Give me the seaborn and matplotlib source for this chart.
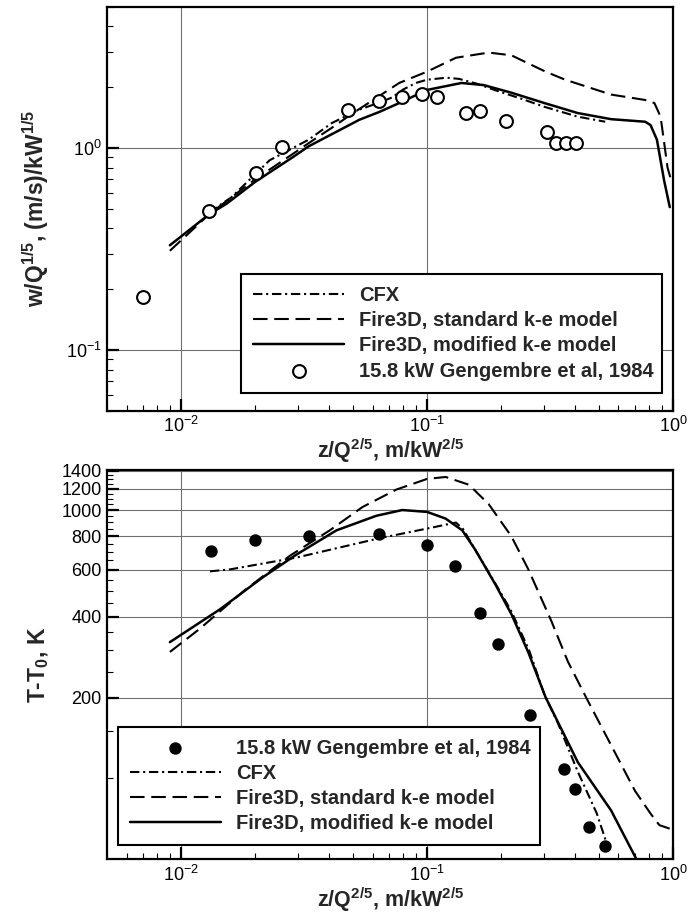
import matplotlib
matplotlib.use('Agg')
import matplotlib.pyplot as plt
import matplotlib.ticker as mticker
import seaborn as sns

# ---- top panel: centreline velocity ----
w_exp_x = [0.0070, 0.0130, 0.0201, 0.0258, 0.0477, 0.0636, 0.079, 0.095, 0.110,
           0.1437, 0.164, 0.210, 0.308, 0.335, 0.368, 0.404]
w_exp_y = [0.184, 0.49, 0.75, 1.01, 1.55, 1.71, 1.79, 1.86, 1.79,
           1.49, 1.53, 1.36, 1.20, 1.06, 1.06, 1.06]

w_cfx_x = [0.013, 0.016, 0.0229, 0.033, 0.041, 0.053, 0.064, 0.072, 0.080, 0.090,
           0.100, 0.120, 0.135, 0.160, 0.190, 0.240, 0.300, 0.410, 0.530]
w_cfx_y = [0.48, 0.57, 0.87, 1.10, 1.33, 1.55, 1.68, 1.78, 1.95, 2.10,
           2.18, 2.23, 2.20, 2.08, 1.93, 1.76, 1.60, 1.43, 1.35]

w_std_x = [0.009, 0.013, 0.020, 0.0354, 0.041, 0.050, 0.077, 0.100, 0.131, 0.178,
           0.220, 0.303, 0.364, 0.560, 0.770, 0.840, 0.890, 0.950, 0.980]
w_std_y = [0.31, 0.47, 0.70, 1.12, 1.26, 1.49, 2.10, 2.39, 2.80, 2.97,
           2.88, 2.39, 2.18, 1.84, 1.73, 1.67, 1.43, 0.80, 0.70]

w_mod_x = [0.009, 0.013, 0.0153, 0.020, 0.0284, 0.033, 0.053, 0.064, 0.077, 0.100,
           0.138, 0.170, 0.220, 0.300, 0.410, 0.560, 0.770, 0.810, 0.860, 0.920, 0.970]
w_mod_y = [0.33, 0.47, 0.53, 0.68, 0.90, 1.02, 1.38, 1.51, 1.67, 1.94,
           2.10, 2.05, 1.88, 1.67, 1.49, 1.39, 1.35, 1.30, 1.10, 0.69, 0.51]

# ---- bottom panel: centreline temperature rise ----
t_exp_x = [0.0132, 0.0200, 0.0330, 0.0640, 0.100, 0.130, 0.164, 0.195, 0.263,
           0.361, 0.400, 0.454, 0.530]
t_exp_y = [706, 773, 800, 811, 742, 617, 413, 316, 173, 108, 91, 66, 56]

t_cfx_x = [0.0131, 0.0158, 0.0294, 0.064, 0.100, 0.131, 0.140, 0.160,
           0.190, 0.220, 0.260, 0.300, 0.340, 0.410, 0.490, 0.535]
t_cfx_y = [591, 601, 665, 785, 853, 898, 850, 690,
           530, 420, 300, 205, 161, 106, 74, 58]

t_std_x = [0.009, 0.0119, 0.018, 0.0277, 0.0402, 0.0546, 0.075, 0.100, 0.119,
           0.148, 0.178, 0.220, 0.258, 0.320, 0.374, 0.450, 0.560, 0.700, 0.810,
           0.880, 0.970]
t_std_y = [296, 361, 500, 676, 840, 1026, 1192, 1306, 1328,
           1242, 1052, 799, 601, 386, 272, 195, 133, 90, 74,
           67, 65]

t_mod_x = [0.009, 0.0144, 0.0215, 0.0294, 0.0428, 0.0622, 0.0793, 0.100, 0.119,
           0.139, 0.157, 0.190, 0.220, 0.258, 0.303, 0.410, 0.560, 0.710]
t_mod_y = [322, 427, 562, 682, 840, 952, 1000, 984, 929,
           840, 711, 526, 410, 295, 201, 115, 76, 50]

t_major = [200, 400, 600, 800, 1000, 1200, 1400]
t_minor = [100, 150] + list(range(250, 1400, 50))

lab_exp = '15.8 kW Gengembre et al, 1984'
lab_cfx = 'CFX'
lab_std = 'Fire3D, standard k-e model'
lab_mod = 'Fire3D, modified k-e model'

sns.set_style('ticks')
plt.rcParams['font.family'] = ['Liberation Sans', 'DejaVu Sans']
plt.rcParams['mathtext.fontset'] = 'custom'
plt.rcParams['mathtext.rm'] = 'Liberation Sans'
plt.rcParams['mathtext.bf'] = 'Liberation Sans:bold'

ls_cfx = (0, (4.5, 1.8, 1.0, 1.8))
ls_std = (0, (7.0, 3.2))
LW = 1.5

fig = plt.figure(figsize=(6.91, 9.19), dpi=100)
ax1 = fig.add_axes([0.155, 0.553, 0.819, 0.4395])
ax2 = fig.add_axes([0.155, 0.065, 0.819, 0.4236])


def style_axes(ax):
    ax.set_xscale('log')
    ax.set_yscale('log')
    ax.set_xlim(0.005, 1.0)
    for s in ax.spines.values():
        s.set_linewidth(1.6)
        s.set_color('k')
    ax.tick_params(which='both', direction='in', top=False, right=False,
                   labelsize=13, colors='k')
    ax.tick_params(which='major', length=8.5, width=1.6, pad=4)
    ax.tick_params(which='minor', length=4.5, width=0.8)
    ax.xaxis.set_major_locator(mticker.LogLocator(base=10, numticks=10))
    ax.xaxis.set_minor_locator(mticker.LogLocator(base=10, subs=range(2, 10), numticks=10))
    ax.xaxis.set_minor_formatter(mticker.NullFormatter())
    ax.set_xlabel(r'z/Q$^{\mathbf{2/5}}$, m/kW$^{\mathbf{2/5}}$',
                  fontsize=15.5, fontweight='bold', labelpad=0)


def legend(ax, anchor):
    lg = ax.legend(loc='lower left', bbox_to_anchor=anchor, mode='expand',
                   borderaxespad=0, prop={'weight': 'bold', 'size': 14.5},
                   handlelength=4.5, handletextpad=0.75, labelspacing=0.3,
                   borderpad=0.6, fancybox=False, framealpha=1,
                   edgecolor='k', scatterpoints=1)
    lg.get_frame().set_linewidth(1.5)


# top panel
sns.lineplot(x=w_cfx_x, y=w_cfx_y, ax=ax1, color='k', lw=LW, linestyle=ls_cfx,
             estimator=None, sort=False, label=lab_cfx)
sns.lineplot(x=w_std_x, y=w_std_y, ax=ax1, color='k', lw=LW, linestyle=ls_std,
             estimator=None, sort=False, label=lab_std)
sns.lineplot(x=w_mod_x, y=w_mod_y, ax=ax1, color='k', lw=LW * 1.2,
             estimator=None, sort=False, label=lab_mod)
sns.scatterplot(x=w_exp_x, y=w_exp_y, ax=ax1, s=85, marker='o', facecolor='white',
                edgecolor='k', linewidth=1.5, label=lab_exp, zorder=5)
style_axes(ax1)
ax1.set_ylim(0.05, 5.0)
ax1.yaxis.set_major_locator(mticker.LogLocator(base=10, numticks=10))
ax1.yaxis.set_minor_locator(mticker.LogLocator(base=10, subs=range(2, 10), numticks=10))
ax1.yaxis.set_minor_formatter(mticker.NullFormatter())
ax1.grid(True, which='major', color='#707070', lw=0.8)
ax1.set_ylabel(r'w/Q$^{\mathbf{1/5}}$, (m/s)/kW$^{\mathbf{1/5}}$',
               fontsize=16.5, fontweight='bold')
ax1.yaxis.set_label_coords(-0.10, 0.5)
legend(ax1, (0.237, 0.045, 0.744, 0.29))

# bottom panel
sns.scatterplot(x=t_exp_x, y=t_exp_y, ax=ax2, s=80, marker='o', color='k',
                edgecolor='k', linewidth=0, label=lab_exp, zorder=5)
sns.lineplot(x=t_cfx_x, y=t_cfx_y, ax=ax2, color='k', lw=LW, linestyle=ls_cfx,
             estimator=None, sort=False, label=lab_cfx)
sns.lineplot(x=t_std_x, y=t_std_y, ax=ax2, color='k', lw=LW, linestyle=ls_std,
             estimator=None, sort=False, label=lab_std)
sns.lineplot(x=t_mod_x, y=t_mod_y, ax=ax2, color='k', lw=LW * 1.2,
             estimator=None, sort=False, label=lab_mod)
style_axes(ax2)
ax2.set_ylim(50, 1410)
ax2.yaxis.set_major_locator(mticker.FixedLocator(t_major))
ax2.yaxis.set_major_formatter(mticker.FixedFormatter([str(v) for v in t_major]))
ax2.yaxis.set_minor_locator(mticker.FixedLocator(t_minor))
ax2.yaxis.set_minor_formatter(mticker.NullFormatter())
ax2.grid(True, which='major', color='#707070', lw=0.8)
ax2.set_ylabel(r'T-T$_{\mathbf{0}}$, K', fontsize=16.5, fontweight='bold')
ax2.yaxis.set_label_coords(-0.10, 0.5)
legend(ax2, (0.019, 0.037, 0.746, 0.295))

fig.savefig('out.png', dpi=100)
